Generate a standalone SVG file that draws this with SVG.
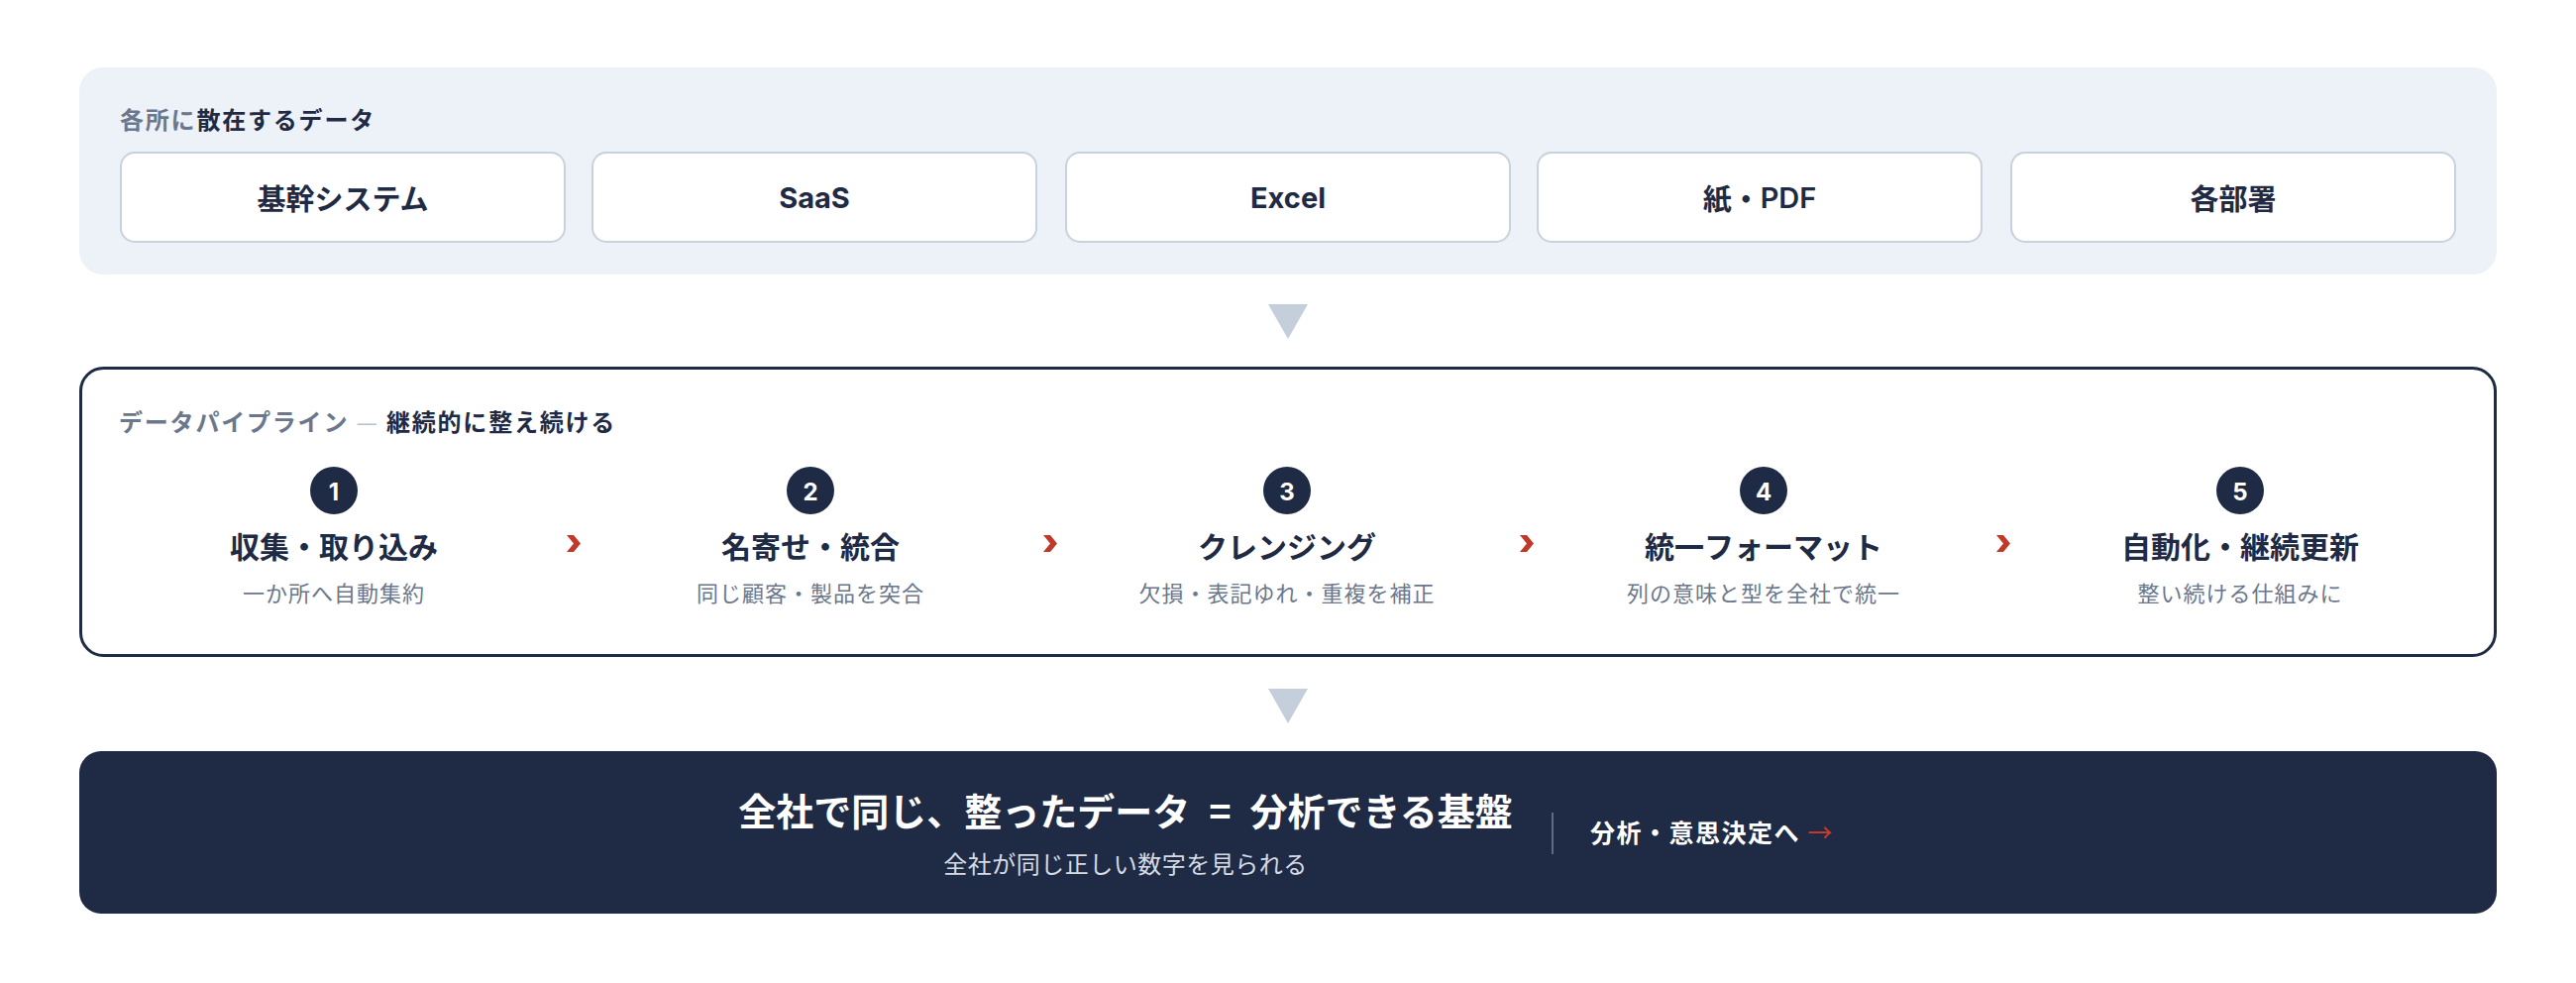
<svg xmlns="http://www.w3.org/2000/svg" width="2600" height="992" viewBox="0 0 2600 992">
<style>
text{font-family:"Noto Sans CJK JP","Noto Sans",sans-serif;dominant-baseline:central}
.lat{font-family:Inter,"Noto Sans CJK JP",sans-serif}
.cap{font-size:24px;font-weight:700;letter-spacing:1.8px}
.g{fill:#6b778c}
.d{fill:#1f2a44}
.card{fill:#ffffff;stroke:#c8d1de;stroke-width:2}
.cl{font-size:29px;font-weight:700;fill:#1f2a44;text-anchor:middle}
.num{font-family:Inter,"Noto Sans CJK JP",sans-serif;font-size:24px;font-weight:700;fill:#ffffff;text-anchor:middle}
.st{font-size:30px;font-weight:700;fill:#1f2a44;text-anchor:middle}
.sd{font-size:22px;fill:#6b778c;text-anchor:middle;letter-spacing:1px}
.chev{fill:#c0392b}
.tri{fill:#c5cfdc}
</style>
<rect width="2600" height="992" fill="#ffffff"/>

<g id="sources">
<rect x="80" y="68" width="2440" height="209" rx="24" fill="#edf1f8"/>
<text x="121" y="119" class="cap"><tspan class="g">各所に</tspan><tspan class="d">散在するデータ</tspan></text>
<g id="src-kikan"><rect x="122" y="154" width="448" height="90" rx="14" class="card"/><text x="346" y="199" class="cl">基幹システム</text></g>
<g id="src-saas"><rect x="598" y="154" width="448" height="90" rx="14" class="card"/><text x="822" y="199" class="cl lat" font-weight="600">SaaS</text></g>
<g id="src-excel"><rect x="1076" y="154" width="448" height="90" rx="14" class="card"/><text x="1300" y="199" class="cl lat" font-weight="600">Excel</text></g>
<g id="src-paper"><rect x="1552" y="154" width="448" height="90" rx="14" class="card"/><text x="1776" y="199" class="cl">紙・<tspan class="lat" font-weight="600">PDF</tspan></text></g>
<g id="src-dept"><rect x="2030" y="154" width="448" height="90" rx="14" class="card"/><text x="2254" y="199" class="cl">各部署</text></g>
</g>

<g id="pipeline">
<rect x="81.5" y="371.5" width="2437" height="290" rx="23" fill="#ffffff" stroke="#1f2a44" stroke-width="3"/>
<text x="120" y="424" class="cap"><tspan class="g">データパイプライン </tspan><tspan fill="#b8c1cf" font-weight="400">—</tspan><tspan class="d"> 継続的に整え続ける</tspan></text>
<g id="step1"><circle cx="337" cy="495" r="24" fill="#1f2a44"/><text x="337" y="496" class="num">1</text><text x="337" y="550" class="st">収集・取り込み</text><text x="337" y="597" class="sd">一か所へ自動集約</text></g>
<g id="step2"><circle cx="818" cy="495" r="24" fill="#1f2a44"/><text x="818" y="496" class="num">2</text><text x="818" y="550" class="st">名寄せ・統合</text><text x="818" y="597" class="sd">同じ顧客・製品を突合</text></g>
<g id="step3"><circle cx="1299" cy="495" r="24" fill="#1f2a44"/><text x="1299" y="496" class="num">3</text><text x="1299" y="550" class="st">クレンジング</text><text x="1299" y="597" class="sd">欠損・表記ゆれ・重複を補正</text></g>
<g id="step4"><circle cx="1780" cy="495" r="24" fill="#1f2a44"/><text x="1780" y="496" class="num">4</text><text x="1780" y="550" class="st">統一フォーマット</text><text x="1780" y="597" class="sd">列の意味と型を全社で統一</text></g>
<g id="step5"><circle cx="2261" cy="495" r="24" fill="#1f2a44"/><text x="2261" y="496" class="num">5</text><text x="2261" y="550" class="st">自動化・継続更新</text><text x="2261" y="597" class="sd">整い続ける仕組みに</text></g>
</g>

<g id="result">
<rect x="80" y="758" width="2440" height="164" rx="22" fill="#1f2a44"/>
<text x="1136" y="816" font-size="38" font-weight="700" fill="#ffffff" text-anchor="middle">全社で同じ、整ったデータ&#8194;=&#8194;分析できる基盤</text>
<text x="1136" y="870" font-size="24" fill="#d5dbe5" text-anchor="middle" letter-spacing="0.5">全社が同じ正しい数字を見られる</text>
<line x1="1567" y1="820" x2="1567" y2="862" stroke="#5f6a85" stroke-width="2"/>
<text x="1605" y="839" font-size="25" font-weight="700" fill="#ffffff" letter-spacing="1.5">分析・意思決定へ <tspan fill="#d0392b" font-weight="400">→</tspan></text>
</g>

<g id="connectors">
<polygon class="tri" points="1280,307 1320,307 1300,342"/>
<polygon class="tri" points="1280,695 1320,695 1300,730"/>
<polygon class="chev" points="572,540 579,540 586,548.5 579,557 572,557 579,548.5"/>
<polygon class="chev" points="1053,540 1060,540 1067,548.5 1060,557 1053,557 1060,548.5"/>
<polygon class="chev" points="1534,540 1541,540 1548,548.5 1541,557 1534,557 1541,548.5"/>
<polygon class="chev" points="2015,540 2022,540 2029,548.5 2022,557 2015,557 2022,548.5"/>
</g>
</svg>
